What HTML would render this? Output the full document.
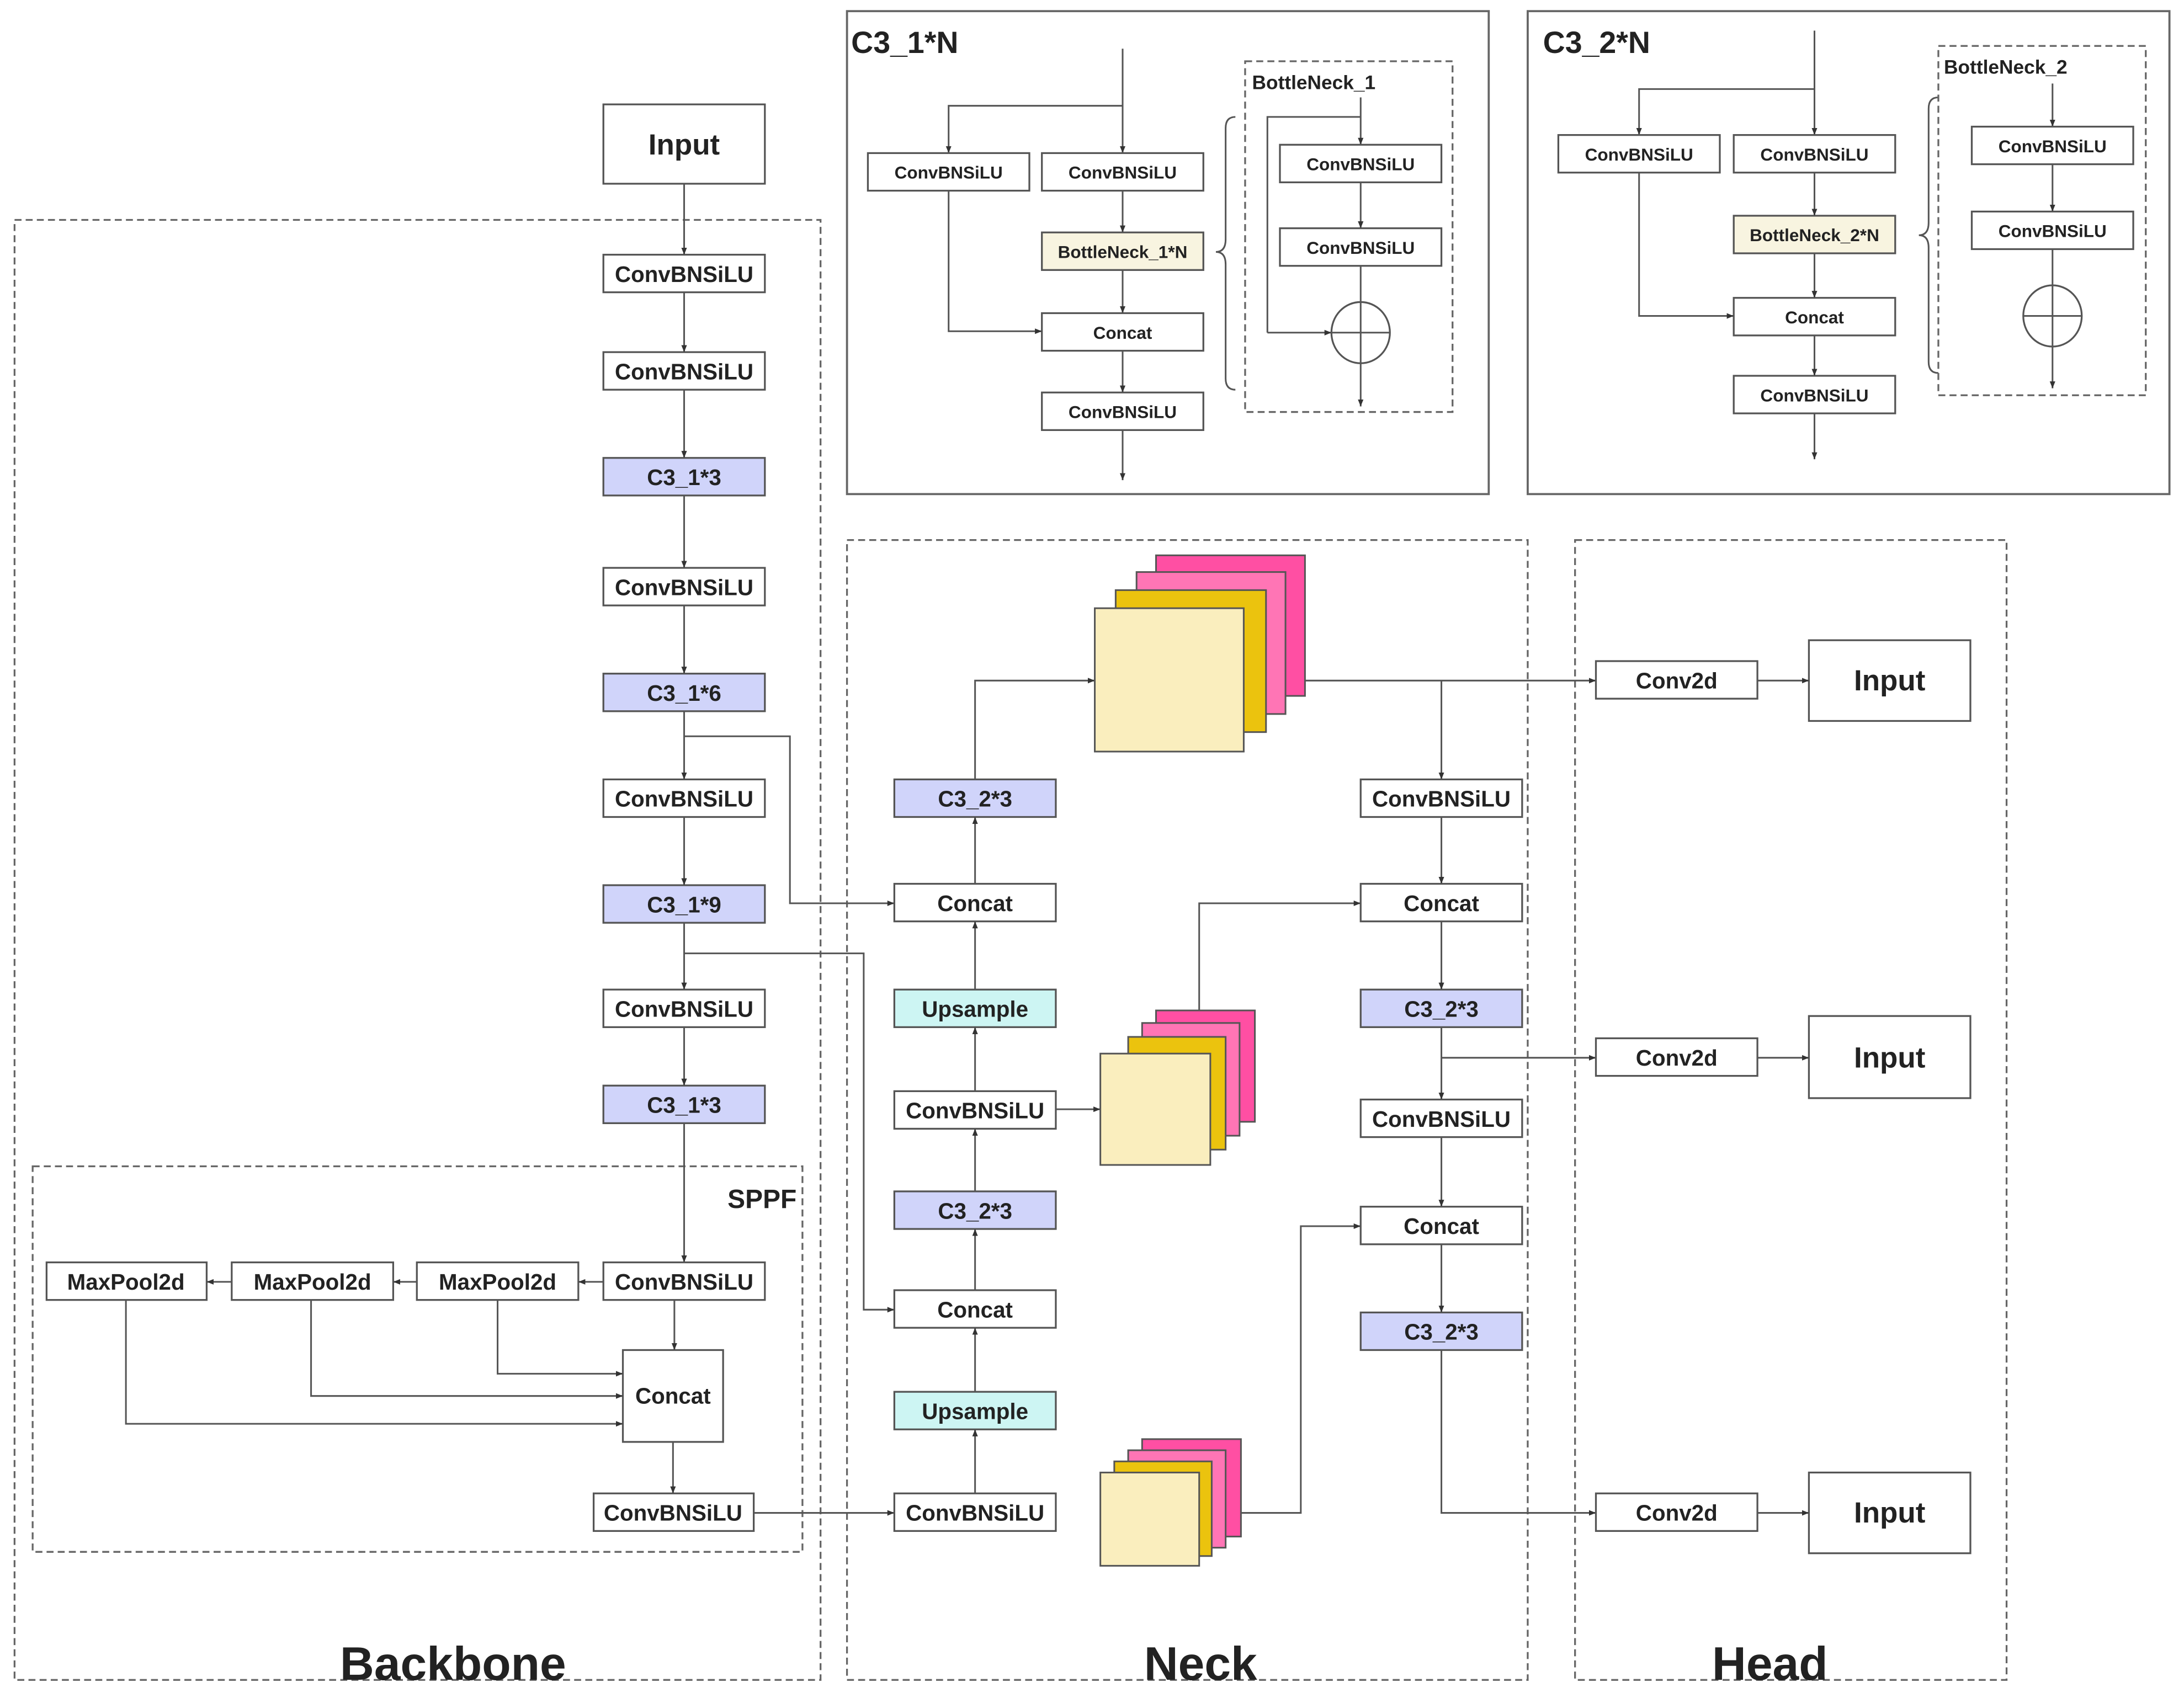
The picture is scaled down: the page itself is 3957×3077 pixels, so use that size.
<!DOCTYPE html>
<html><head><meta charset="utf-8"><style>
html,body{margin:0;padding:0;background:#fff;}
svg{display:block;}
text{font-family:"Liberation Sans","DejaVu Sans",sans-serif;fill:#222;}
</style></head><body>
<svg width="3957" height="3077" viewBox="0 0 1568 1220" xmlns="http://www.w3.org/2000/svg">
<defs>
<marker id="a" viewBox="0 0 10 10" refX="10" refY="5" markerWidth="5" markerHeight="5" orient="auto-start-reverse" markerUnits="userSpaceOnUse"><path d="M0,1 L10,5 L0,9 z" fill="#333"/></marker>
<style>
.b{fill:#fff;stroke:#555;stroke-width:1.3}
.c3{fill:#d0d4fa;stroke:#555;stroke-width:1.3}
.up{fill:#cdf5f3;stroke:#555;stroke-width:1.3}
.bn{fill:#f8f4e0;stroke:#555;stroke-width:1.3}
.l{fill:none;stroke:#555;stroke-width:1.2}
.la{fill:none;stroke:#555;stroke-width:1.2;marker-end:url(#a)}
.d{fill:none;stroke:#666;stroke-width:1.3;stroke-dasharray:5,3}
.t{font-size:16px;font-weight:bold;text-anchor:middle;dominant-baseline:central}
.s{font-size:12.5px;font-weight:bold;text-anchor:middle;dominant-baseline:central}
.big{font-size:34px;font-weight:bold;text-anchor:middle}
</style>
</defs>

<!-- Group dashed boxes -->
<rect class="d" x="10" y="158" width="579" height="1049"/>
<rect class="d" x="23" y="838" width="553" height="277"/>
<rect class="d" x="608" y="388" width="489" height="819"/>
<rect class="d" x="1131" y="388" width="310" height="819"/>
<text class="big" x="325" y="1207">Backbone</text>
<text class="big" x="862" y="1207">Neck</text>
<text class="big" x="1271" y="1207">Head</text>
<text x="547" y="868" style="font-size:19px;font-weight:bold;text-anchor:middle">SPPF</text>

<!-- Backbone -->
<rect class="b" x="433" y="75" width="116" height="57"/><text class="t" x="491" y="104" style="font-size:21px">Input</text>
<rect class="b" x="433" y="183" width="116" height="27"/><text class="t" x="491" y="197">ConvBNSiLU</text>
<rect class="b" x="433" y="253" width="116" height="27"/><text class="t" x="491" y="267">ConvBNSiLU</text>
<rect class="c3" x="433" y="329" width="116" height="27"/><text class="t" x="491" y="343">C3_1*3</text>
<rect class="b" x="433" y="408" width="116" height="27"/><text class="t" x="491" y="422">ConvBNSiLU</text>
<rect class="c3" x="433" y="484" width="116" height="27"/><text class="t" x="491" y="498">C3_1*6</text>
<rect class="b" x="433" y="560" width="116" height="27"/><text class="t" x="491" y="574">ConvBNSiLU</text>
<rect class="c3" x="433" y="636" width="116" height="27"/><text class="t" x="491" y="650">C3_1*9</text>
<rect class="b" x="433" y="711" width="116" height="27"/><text class="t" x="491" y="725">ConvBNSiLU</text>
<rect class="c3" x="433" y="780" width="116" height="27"/><text class="t" x="491" y="794">C3_1*3</text>
<path class="la" d="M491,132 V183"/><path class="la" d="M491,210 V253"/><path class="la" d="M491,280 V329"/>
<path class="la" d="M491,356 V408"/><path class="la" d="M491,435 V484"/><path class="la" d="M491,511 V560"/>
<path class="la" d="M491,587 V636"/><path class="la" d="M491,663 V711"/><path class="la" d="M491,738 V780"/>
<path class="la" d="M491,807 V907"/>

<!-- SPPF -->
<rect class="b" x="433" y="907" width="116" height="27"/><text class="t" x="491" y="921">ConvBNSiLU</text>
<rect class="b" x="299" y="907" width="116" height="27"/><text class="t" x="357" y="921">MaxPool2d</text>
<rect class="b" x="166" y="907" width="116" height="27"/><text class="t" x="224" y="921">MaxPool2d</text>
<rect class="b" x="33" y="907" width="115" height="27"/><text class="t" x="90" y="921">MaxPool2d</text>
<path class="la" d="M433,921 H415"/><path class="la" d="M299,921 H282"/><path class="la" d="M166,921 H148"/>
<rect class="b" x="447" y="970" width="72" height="66"/><text class="t" x="483" y="1003">Concat</text>
<path class="la" d="M484,934 V970"/>
<path class="la" d="M357,934 V987 H447"/><path class="la" d="M223,934 V1003 H447"/><path class="la" d="M90,934 V1023 H447"/>
<rect class="b" x="426" y="1073" width="115" height="27"/><text class="t" x="483" y="1087">ConvBNSiLU</text>
<path class="la" d="M483,1036 V1073"/>
<path class="la" d="M541,1087 H642"/>

<!-- Backbone -> neck branches -->
<path class="la" d="M491,529 H567 V649 H642"/>
<path class="la" d="M491,685 H620 V941 H642"/>

<!-- Neck left column -->
<rect class="b" x="642" y="1073" width="116" height="27"/><text class="t" x="700" y="1087">ConvBNSiLU</text>
<rect class="up" x="642" y="1000" width="116" height="27"/><text class="t" x="700" y="1014">Upsample</text>
<rect class="b" x="642" y="927" width="116" height="27"/><text class="t" x="700" y="941">Concat</text>
<rect class="c3" x="642" y="856" width="116" height="27"/><text class="t" x="700" y="870">C3_2*3</text>
<rect class="b" x="642" y="784" width="116" height="27"/><text class="t" x="700" y="798">ConvBNSiLU</text>
<rect class="up" x="642" y="711" width="116" height="27"/><text class="t" x="700" y="725">Upsample</text>
<rect class="b" x="642" y="635" width="116" height="27"/><text class="t" x="700" y="649">Concat</text>
<rect class="c3" x="642" y="560" width="116" height="27"/><text class="t" x="700" y="574">C3_2*3</text>
<path class="la" d="M700,1073 V1027"/><path class="la" d="M700,1000 V954"/><path class="la" d="M700,927 V883"/>
<path class="la" d="M700,856 V811"/><path class="la" d="M700,784 V738"/><path class="la" d="M700,711 V662"/>
<path class="la" d="M700,635 V587"/>
<path class="la" d="M700,560 V489 H786"/>
<path class="la" d="M758,797 H790"/>

<!-- Feature cubes large -->
<rect x="830" y="399" width="107" height="101" fill="#ff4fa3" stroke="#555" stroke-width="1.2"/>
<rect x="816" y="411" width="107" height="102" fill="#ff75b5" stroke="#555" stroke-width="1.2"/>
<rect x="801" y="424" width="108" height="102" fill="#ebc30e" stroke="#555" stroke-width="1.2"/>
<rect x="786" y="437" width="107" height="103" fill="#faeebe" stroke="#555" stroke-width="1.2"/>
<!-- medium -->
<rect x="830" y="726" width="71" height="80" fill="#ff4fa3" stroke="#555" stroke-width="1.2"/>
<rect x="820" y="735" width="70" height="81" fill="#ff75b5" stroke="#555" stroke-width="1.2"/>
<rect x="810" y="745" width="70" height="81" fill="#ebc30e" stroke="#555" stroke-width="1.2"/>
<rect x="790" y="757" width="79" height="80" fill="#faeebe" stroke="#555" stroke-width="1.2"/>
<!-- small -->
<rect x="820" y="1034" width="71" height="70" fill="#ff4fa3" stroke="#555" stroke-width="1.2"/>
<rect x="810" y="1042" width="70" height="70" fill="#ff75b5" stroke="#555" stroke-width="1.2"/>
<rect x="800" y="1050" width="70" height="68" fill="#ebc30e" stroke="#555" stroke-width="1.2"/>
<rect x="790" y="1058" width="71" height="67" fill="#faeebe" stroke="#555" stroke-width="1.2"/>

<path class="la" d="M861,726 V649 H977"/>
<path class="la" d="M891,1087 H934 V881 H977"/>
<path class="la" d="M937,489 H1146"/>
<path class="la" d="M1035,489 V560"/>

<!-- Neck right column -->
<rect class="b" x="977" y="560" width="116" height="27"/><text class="t" x="1035" y="574">ConvBNSiLU</text>
<rect class="b" x="977" y="635" width="116" height="27"/><text class="t" x="1035" y="649">Concat</text>
<rect class="c3" x="977" y="711" width="116" height="27"/><text class="t" x="1035" y="725">C3_2*3</text>
<rect class="b" x="977" y="790" width="116" height="27"/><text class="t" x="1035" y="804">ConvBNSiLU</text>
<rect class="b" x="977" y="867" width="116" height="27"/><text class="t" x="1035" y="881">Concat</text>
<rect class="c3" x="977" y="943" width="116" height="27"/><text class="t" x="1035" y="957">C3_2*3</text>
<path class="la" d="M1035,587 V635"/><path class="la" d="M1035,662 V711"/><path class="la" d="M1035,738 V790"/>
<path class="la" d="M1035,760 H1146"/>
<path class="la" d="M1035,817 V867"/><path class="la" d="M1035,894 V943"/>
<path class="la" d="M1035,970 V1087 H1146"/>

<!-- Head -->
<rect class="b" x="1146" y="475" width="116" height="27"/><text class="t" x="1204" y="489">Conv2d</text>
<rect class="b" x="1299" y="460" width="116" height="58"/><text class="t" x="1357" y="489" style="font-size:21px">Input</text>
<rect class="b" x="1146" y="746" width="116" height="27"/><text class="t" x="1204" y="760">Conv2d</text>
<rect class="b" x="1299" y="730" width="116" height="59"/><text class="t" x="1357" y="760" style="font-size:21px">Input</text>
<rect class="b" x="1146" y="1073" width="116" height="27"/><text class="t" x="1204" y="1087">Conv2d</text>
<rect class="b" x="1299" y="1058" width="116" height="58"/><text class="t" x="1357" y="1087" style="font-size:21px">Input</text>
<path class="la" d="M1262,489 H1299"/><path class="la" d="M1262,760 H1299"/><path class="la" d="M1262,1087 H1299"/>

<!-- C3_1*N -->
<rect x="608" y="8" width="461" height="347" fill="none" stroke="#666" stroke-width="1.5"/>
<text x="611" y="38" style="font-size:22px;font-weight:bold">C3_1*N</text>
<path class="la" d="M806,35 V110"/>
<path class="la" d="M806,76 H681 V110"/>
<rect class="b" x="623" y="110" width="116" height="27"/><text class="s" x="681" y="124">ConvBNSiLU</text>
<rect class="b" x="748" y="110" width="116" height="27"/><text class="s" x="806" y="124">ConvBNSiLU</text>
<rect class="bn" x="748" y="167" width="116" height="27"/><text class="s" x="806" y="181">BottleNeck_1*N</text>
<rect class="b" x="748" y="225" width="116" height="27"/><text class="s" x="806" y="239">Concat</text>
<rect class="b" x="748" y="282" width="116" height="27"/><text class="s" x="806" y="296">ConvBNSiLU</text>
<path class="la" d="M806,137 V167"/><path class="la" d="M806,194 V225"/><path class="la" d="M806,252 V282"/><path class="la" d="M806,309 V345"/>
<path class="la" d="M681,137 V238 H748"/>
<path class="l" d="M887,84 Q880,84 880,92 V172 Q880,181 873,181 Q880,181 880,190 V272 Q880,280 887,280"/>
<rect class="d" x="894" y="44" width="149" height="252"/>
<text x="899" y="64" style="font-size:14px;font-weight:bold">BottleNeck_1</text>
<path class="la" d="M977,70 V104"/>
<path class="l" d="M977,84 H910 V239"/><path class="la" d="M910,239 H956"/>
<rect class="b" x="919" y="104" width="116" height="27"/><text class="s" x="977" y="118">ConvBNSiLU</text>
<rect class="b" x="919" y="164" width="116" height="27"/><text class="s" x="977" y="178">ConvBNSiLU</text>
<path class="la" d="M977,131 V164"/>
<ellipse cx="977" cy="239" rx="21" ry="22" fill="none" stroke="#555" stroke-width="1.3"/>
<path class="l" d="M956,239 H998"/>
<path class="la" d="M977,191 V292"/>

<!-- C3_2*N -->
<rect x="1097" y="8" width="461" height="347" fill="none" stroke="#666" stroke-width="1.5"/>
<text x="1108" y="38" style="font-size:22px;font-weight:bold">C3_2*N</text>
<path class="la" d="M1303,22 V97"/>
<path class="la" d="M1303,64 H1177 V97"/>
<rect class="b" x="1119" y="97" width="116" height="27"/><text class="s" x="1177" y="111">ConvBNSiLU</text>
<rect class="b" x="1245" y="97" width="116" height="27"/><text class="s" x="1303" y="111">ConvBNSiLU</text>
<rect class="bn" x="1245" y="155" width="116" height="27"/><text class="s" x="1303" y="169">BottleNeck_2*N</text>
<rect class="b" x="1245" y="214" width="116" height="27"/><text class="s" x="1303" y="228">Concat</text>
<rect class="b" x="1245" y="270" width="116" height="27"/><text class="s" x="1303" y="284">ConvBNSiLU</text>
<path class="la" d="M1303,124 V155"/><path class="la" d="M1303,182 V214"/><path class="la" d="M1303,241 V270"/><path class="la" d="M1303,297 V330"/>
<path class="la" d="M1177,124 V227 H1245"/>
<path class="l" d="M1392,70 Q1385,70 1385,78 V160 Q1385,169 1378,169 Q1385,169 1385,178 V260 Q1385,268 1392,268"/>
<rect class="d" x="1392" y="33" width="149" height="251"/>
<text x="1396" y="53" style="font-size:14px;font-weight:bold">BottleNeck_2</text>
<path class="la" d="M1474,60 V91"/>
<rect class="b" x="1416" y="91" width="116" height="27"/><text class="s" x="1474" y="105">ConvBNSiLU</text>
<rect class="b" x="1416" y="152" width="116" height="27"/><text class="s" x="1474" y="166">ConvBNSiLU</text>
<path class="la" d="M1474,118 V152"/>
<ellipse cx="1474" cy="227" rx="21" ry="22" fill="none" stroke="#555" stroke-width="1.3"/>
<path class="l" d="M1453,227 H1495"/>
<path class="la" d="M1474,179 V279"/>
</svg>
</body></html>
